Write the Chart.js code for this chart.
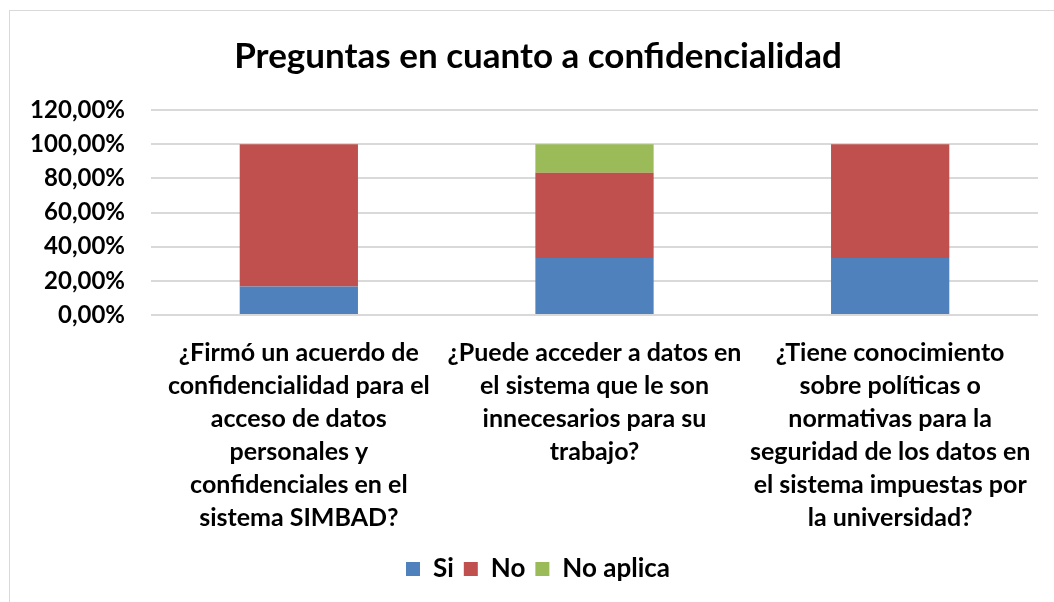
<!DOCTYPE html>
<html>
<head>
<meta charset="utf-8">
<script src="https://cdn.jsdelivr.net/npm/chart.js@4.4.0/dist/chart.umd.min.js"></script>
<style>
  html, body { margin:0; padding:0; background:#fff; }
  #box {
    position:absolute; left:9px; top:10px;
    width:1045px; height:592px;
    border-left:1px solid #d9d9d9; border-top:1px solid #d9d9d9;
    box-sizing:border-box;
  }
  #box canvas { display:block; }
</style>
</head>
<body>
<div id="box"><canvas id="chart" width="1044" height="591"></canvas></div>
<script>
// datos
const categories = [
  ['¿Firmó un acuerdo de', 'confidencialidad para el', 'acceso de datos', 'personales y', 'confidenciales en el', 'sistema SIMBAD?'],
  ['¿Puede acceder a datos en', 'el sistema que le son', 'innecesarios para su', 'trabajo?'],
  ['¿Tiene conocimiento', 'sobre políticas o', 'normativas para la', 'seguridad de los datos en', 'el sistema impuestas por', 'la universidad?']
];
const siValues = [16.67, 33.33, 33.33];
const noValues = [83.33, 50.0, 66.67];
const noAplicaValues = [0, 16.67, 0];
const seriesNames = ['Si', 'No', 'No aplica'];
const titleText = 'Preguntas en cuanto a confidencialidad';

const FONT = 'Lato, Calibri, "Open Sans", sans-serif';

function pct(v) {
  return v.toFixed(2).replace('.', ',') + '%';
}

// el padding izq. centra titulo y leyenda como en el original;
// luego se abre la caja del eje y para que sus etiquetas no se recorten
const unclipY = {
  id: 'unclipY',
  afterLayout(chart) {
    chart.scales.y.left = 0;
  }
};

const ctx = document.getElementById('chart').getContext('2d');
new Chart(ctx, {
  type: 'bar',
  data: {
    labels: categories,
    datasets: [
      { label: seriesNames[0], data: siValues, backgroundColor: '#4F81BD' },
      { label: seriesNames[1], data: noValues, backgroundColor: '#C0504D' },
      { label: seriesNames[2], data: noAplicaValues, backgroundColor: '#9BBB59' }
    ]
  },
  options: {
    responsive: false,
    animation: false,
    layout: { padding: { left: 28, right: 16, top: 0, bottom: 10 } },
    datasets: { bar: { categoryPercentage: 1.0, barPercentage: 0.4 } },
    scales: {
      x: {
        stacked: true,
        grid: { display: false },
        border: { display: false },
        ticks: {
          color: '#000',
          font: { family: FONT, size: 25, weight: 'bold', lineHeight: 1.32 },
          padding: 13,
          maxRotation: 0,
          autoSkip: false
        },
        afterFit(scale) { scale.height = 231; }
      },
      y: {
        stacked: true,
        min: 0,
        max: 120,
        grid: { color: '#d9d9d9', lineWidth: 2, drawTicks: false },
        border: { display: false },
        ticks: {
          stepSize: 20,
          color: '#000',
          font: { family: FONT, size: 24, weight: 'bold' },
          padding: 26,
          callback: v => pct(v)
        },
        afterFit(scale) { scale.width = 113; }
      }
    },
    plugins: {
      title: {
        display: true,
        text: titleText,
        color: '#000',
        font: { family: FONT, size: 35, weight: 'bold', lineHeight: 1.2 },
        padding: { top: 25, bottom: 32 }
      },
      legend: {
        position: 'bottom',
        labels: {
          color: '#000',
          font: { family: FONT, size: 26, weight: 'bold' },
          boxWidth: 14,
          boxHeight: 14,
          padding: 10
        }
      },
      tooltip: { enabled: false }
    }
  },
  plugins: [unclipY]
});
</script>
</body>
</html>
